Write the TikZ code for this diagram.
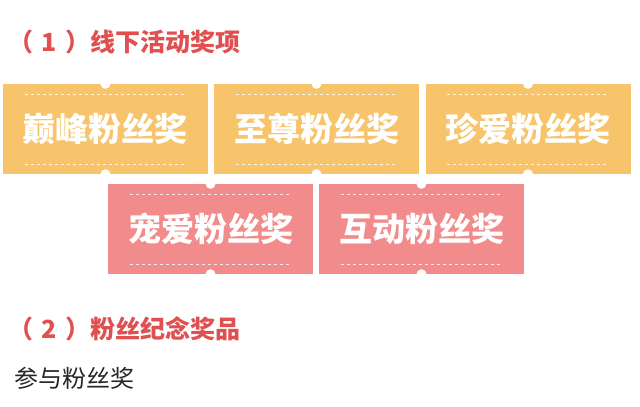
\documentclass[tikz,border=0pt]{standalone}
\usepackage{fontspec}
\newfontfamily\cjk{Noto Sans CJK SC}
\usetikzlibrary{positioning}
\definecolor{headred}{HTML}{E05050}
\definecolor{ticketyellow}{HTML}{F7C46C}
\definecolor{ticketpink}{HTML}{F28C8C}
\begin{document}
\begin{tikzpicture}[x=1pt,y=-1pt]
\tikzstyle{ticket} = [draw=none, minimum width=205pt, minimum height=90pt, inner sep=0pt, font=\cjk\bfseries\fontsize{33}{36}\selectfont, text=white]
\tikzstyle{head} = [anchor=west, inner sep=0pt, font=\cjk\bfseries\fontsize{25}{28}\selectfont, text=headred]
\useasboundingbox (0,0) rectangle (640,407);
\node [head] (h1) at (8,42) {（\,\,1\,\,）线下活动奖项};
\node [ticket, fill=ticketyellow] (t1) at (105.5,129) {巅峰粉丝奖};
\node [ticket, fill=ticketyellow] (t2) at (316.5,129) {至尊粉丝奖};
\node [ticket, fill=ticketyellow] (t3) at (528,129) {珍爱粉丝奖};
\node [ticket, fill=ticketpink] (t4) at (210.5,229) {宠爱粉丝奖};
\node [ticket, fill=ticketpink] (t5) at (421.5,229) {互动粉丝奖};
\foreach \t in {t1,t2,t3,t4,t5} {
  \fill [white] (\t.north) circle (5);
  \fill [white] (\t.south) circle (5);
  \draw [white, dashed, opacity=.8, line width=.5pt] ([shift={(22,10)}]\t.north west) -- ([shift={(-22,10)}]\t.north east);
  \draw [white, dashed, opacity=.8, line width=.5pt] ([shift={(22,-10)}]\t.south west) -- ([shift={(-22,-10)}]\t.south east);
}
\node [head] (h2) at (8,329) {（\,\,2\,\,）粉丝纪念奖品};
\node [head, text=black!85, font=\cjk\fontsize{24}{28}\selectfont] (p1) at (14,378) {参与粉丝奖};
\end{tikzpicture}
\end{document}
